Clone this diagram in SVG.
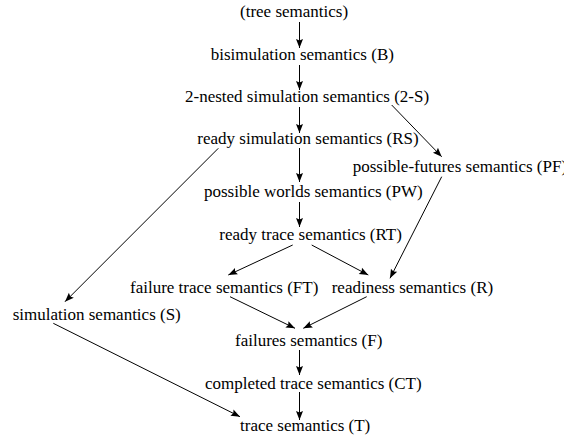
<svg xmlns="http://www.w3.org/2000/svg" width="564" height="438" viewBox="0 0 564 438">
<style>
  text { font-family: "Liberation Serif", "Times New Roman", serif; font-size: 17px; fill: #000; }
  .e line { stroke: #000; stroke-width: 1; marker-end: url(#ah); }
</style>
<defs>
  <marker id="ah" markerUnits="userSpaceOnUse" markerWidth="12" markerHeight="10" refX="9" refY="0" viewBox="-1 -5 12 10" orient="auto">
    <path d="M0,-3.5 L9,0 L0,3.5 L1.5,0 z" fill="#000"/>
  </marker>
</defs>
<rect width="564" height="438" fill="#fff"/>
<g id="n-tree"><text x="240" y="17">(tree semantics)</text></g>
<g id="n-B"><text x="210.7" y="60">bisimulation semantics (B)</text></g>
<g id="n-2S"><text x="185" y="102">2-nested simulation semantics (2-S)</text></g>
<g id="n-RS"><text x="197.3" y="144">ready simulation semantics (RS)</text></g>
<g id="n-PF"><text x="352.7" y="172">possible-futures semantics (PF)</text></g>
<g id="n-PW"><text x="204" y="197">possible worlds semantics (PW)</text></g>
<g id="n-RT"><text x="219.3" y="240">ready trace semantics (RT)</text></g>
<g id="n-FT"><text x="130" y="293">failure trace semantics (FT)</text></g>
<g id="n-R"><text x="331.7" y="293">readiness semantics (R)</text></g>
<g id="n-S"><text x="12.7" y="320">simulation semantics (S)</text></g>
<g id="n-F"><text x="235" y="346">failures semantics (F)</text></g>
<g id="n-CT"><text x="205" y="389">completed trace semantics (CT)</text></g>
<g id="n-T"><text x="240" y="431">trace semantics (T)</text></g>
<g id="edges" class="e">
  <line x1="299.5" y1="22" x2="299.5" y2="48"/>
  <line x1="299.5" y1="65" x2="299.5" y2="90"/>
  <line x1="299.5" y1="107" x2="299.5" y2="133"/>
  <line x1="299.5" y1="148" x2="299.5" y2="182"/>
  <line x1="299.5" y1="202" x2="299.5" y2="227"/>
  <line x1="299.5" y1="350" x2="299.5" y2="375"/>
  <line x1="299.5" y1="392" x2="299.5" y2="420"/>
  <line x1="391.7" y1="105" x2="441.7" y2="156.7"/>
  <line x1="441.7" y1="176.7" x2="390" y2="278.3"/>
  <line x1="218.3" y1="148.3" x2="65" y2="301.7"/>
  <line x1="292.7" y1="245" x2="228.3" y2="275"/>
  <line x1="311.7" y1="245" x2="368.3" y2="275"/>
  <line x1="230" y1="296.7" x2="295" y2="328.3"/>
  <line x1="366.7" y1="296.7" x2="303.3" y2="328.3"/>
  <line x1="53.3" y1="323.3" x2="240" y2="416.7"/>
</g>
</svg>
